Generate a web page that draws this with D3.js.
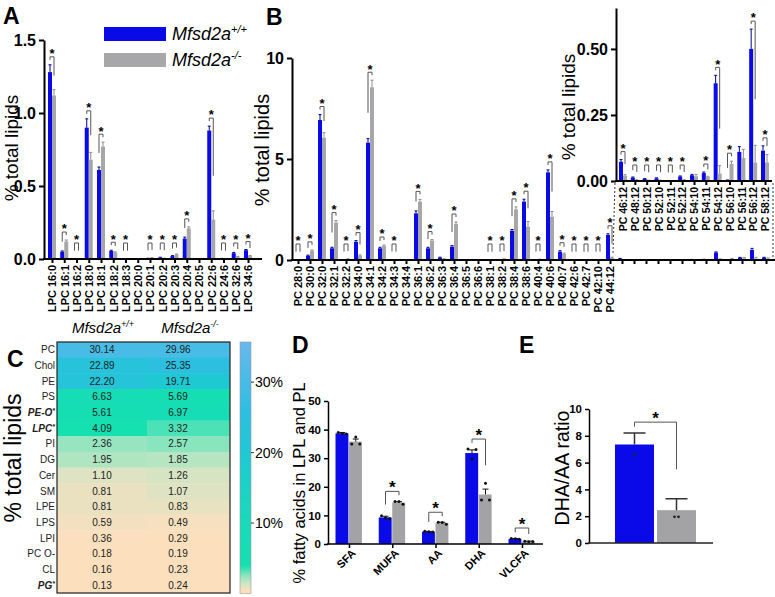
<!DOCTYPE html>
<html>
<head>
<meta charset="utf-8">
<script src="https://cdn.jsdelivr.net/npm/d3@7"></script>
<style>
  body { margin: 0; background: #fff; }
  svg { font-family: "Liberation Sans", Arial, sans-serif; }
</style>
</head>
<body>
<svg id="fig" width="775" height="597"></svg>
<script>
// ---- A: LPC species (% total lipids)
const lpcCats = ["16:0","16:1","16:2","18:0","18:1","18:2","18:3","20:0","20:1","20:2","20:3","20:4","20:5","22:6","24:6","32:6","34:6"];
const lpcWT    = [1.28,0.05,0.003,0.90,0.61,0.055,0.002,0.001,0.004,0.01,0.02,0.14,0.001,0.88,0.003,0.04,0.06];
const lpcWTSem = [0.05,0.005,0,0.06,0.02,0.005,0,0,0.001,0.002,0.003,0.01,0,0.03,0.001,0.005,0.005];
const lpcKO    = [1.12,0.12,0.002,0.68,0.77,0.045,0.001,0.001,0.008,0.005,0.03,0.21,0.001,0.27,0.002,0.015,0.02];
const lpcKOSem = [0.04,0.01,0,0.05,0.03,0.004,0,0,0.001,0.001,0.004,0.01,0,0.06,0,0.003,0.004];
const lpcSig   = [1,1,1,1,1,1,1,0,1,1,1,1,0,1,1,1,1];

// ---- B: PC species (% total lipids), last 13 also shown in the inset
const pcCats = ["28:0","30:0","32:0","32:1","32:2","34:0","34:1","34:2","34:3","34:4","36:1","36:2","36:3","36:4","36:5","36:6","38:1","38:2","38:4","38:6","40:4","40:6","40:7","42:6","42:7","42:10","44:12",
                "46:12","48:12","50:12","52:10","52:11","52:12","54:10","54:11","54:12","56:10","56:11","56:12","58:12"];
const pcWT    = [0.01,0.21,6.93,0.58,0.02,0.90,5.81,0.58,0.03,0.005,2.31,0.58,0.12,0.66,0.005,0.005,0.005,0.01,1.45,2.89,0.01,4.34,0.41,0.005,0.005,0.005,1.24,
                 0.073,0.013,0.008,0.01,0.002,0.017,0.022,0.03,0.37,0.003,0.11,0.50,0.115];
const pcWTSem = [0,0.03,0.27,0.05,0,0.06,0.2,0.05,0,0,0.12,0.05,0.02,0.05,0,0,0,0,0.06,0.12,0,0.12,0.05,0,0,0,0.06,
                 0.008,0.002,0.001,0.002,0,0.002,0.003,0.004,0.03,0.001,0.02,0.075,0.018];
const pcKO    = [0.005,0.46,6.05,1.85,0.05,0.22,8.55,0.69,0.01,0.005,2.89,0.96,0.05,1.78,0.005,0.005,0.01,0.05,2.51,1.65,0.03,2.14,0.30,0.01,0.01,0.01,0.12,
                 0.02,0.004,0.002,0.002,0.001,0.004,0.018,0.015,0.028,0.065,0.087,0.07,0.07];
const pcKOSem = [0,0.04,0.25,0.1,0.01,0.03,0.35,0.05,0,0,0.11,0.05,0.01,0.1,0,0,0,0.01,0.12,0.25,0.01,0.26,0.04,0,0,0,0.02,
                 0.004,0.001,0.001,0.001,0,0.001,0.007,0.003,0.03,0.01,0.033,0.065,0.03];
const pcSig   = [1,1,1,1,1,1,1,1,1,0,1,1,0,1,0,0,1,1,1,1,1,1,1,1,1,1,1,
                 1,1,1,1,1,1,0,1,1,1,0,1,1];
const insetFrom = 27;

// ---- C: lipid classes heatmap
const hmRows = ["PC","Chol","PE","PS","PE-O*","LPC*","PI","DG","Cer","SM","LPE","LPS","LPI","PC O-","CL","PG*"];
const hmWT   = [30.14,22.89,22.20,6.63,5.61,4.09,2.36,1.95,1.10,0.81,0.81,0.59,0.36,0.18,0.16,0.13];
const hmKO   = [29.96,25.35,19.71,5.69,6.97,3.32,2.57,1.85,1.26,1.07,0.83,0.49,0.29,0.19,0.23,0.24];
const hmTicks = [10, 20, 30];
const colDom   = [0, 0.4, 0.9, 1.5, 2.5, 4, 12, 20, 26, 36];
const colRange = ["#fde0bc","#fbdfbe","#e6e2c2","#cbe5c4","#8ee5bf","#14e0b0","#1ad8be","#1fc8d4","#2ebee0","#6cb8ee"];

// ---- D: fatty acid classes
const faCats  = ["SFA","MUFA","AA","DHA","VLCFA"];
const faWT    = [38.7, 9.3, 4.3, 31.8, 1.8];
const faWTSem = [0.3, 0.4, 0.1, 1.1, 0.1];
const faKO    = [35.8, 14.5, 7.3, 17.3, 0.9];
const faKOSem = [0.9, 0.3, 0.3, 1.9, 0.1];
const faWTPts = [[39.0,38.6,38.5],[9.9,9.2,8.8],[4.5,4.3,4.2],[33.2,29.6,33.0],[1.9,1.8,1.7]];
const faKOPts = [[35.0,37.4,35.0],[14.9,14.9,13.9],[7.6,7.5,6.9],[15.4,21.2,15.4],[1.0,0.8,0.9]];
const faSig   = [0,1,1,1,1];

// ---- E: DHA/AA ratio
const ratioGroups = ["WT","KO"];
const ratioMean = [7.35, 2.45];
const ratioSem  = [0.85, 0.85];
const ratioPts  = [[6.6], [1.95, 1.95]];

const BLUE = "#0a0ae8", GRAY = "#a7a7aa";
const svg = d3.select("#fig");

/*
 * Helpers
 */
function letter(t, x, y) {
  svg.append("text").attr("x", x).attr("y", y).attr("font-size", 23).attr("font-weight", "bold").text(t);
}

function yLabel(t, x, y, size) {
  svg.append("text").attr("transform", `translate(${x},${y}) rotate(-90)`)
    .attr("text-anchor", "middle").attr("font-size", size).text(t);
}

function styleAxis(sel, fs, bold, w) {
  sel.attr("font-family", null);
  sel.select(".domain").attr("stroke-width", w || 2);
  sel.selectAll(".tick line").attr("stroke-width", w || 2);
  sel.selectAll(".tick text").attr("font-size", fs).attr("font-weight", bold ? "bold" : "normal").attr("fill", "#000");
}

function bracket(g, x1, x2, yTop1, yTop2, yZero, size, gap) {
  const by = Math.min(Math.min(yTop1, yTop2) - gap, yZero - 16);
  const l1 = by + Math.max(3, (yTop1 - by - 4) * 0.65);
  const l2 = by + Math.max(3, (yTop2 - by - 4) * 0.65);
  g.append("path").attr("d", `M${x1},${l1}V${by}H${x2}V${l2}`)
    .attr("fill", "none").attr("stroke", "#555").attr("stroke-width", 1);
  g.append("text").attr("x", (x1 + x2) / 2).attr("y", by + size * 0.1)
    .attr("text-anchor", "middle").attr("font-size", size).attr("font-weight", "bold").text("*");
}

// grouped bars with one-sided error bars (panels A and B)
function pairBars(g, idx, cats, wt, wtSem, ko, koSem, x, y, bw) {
  idx.forEach(i => {
    const c = x(cats[i]);
    [[wt[i], wtSem[i], BLUE, c - bw, "#00008a"], [ko[i], koSem[i], GRAY, c, "#8c8c8c"]].forEach(([v, s, col, x0, ec]) => {
      g.append("rect").attr("x", x0).attr("y", y(v)).attr("width", bw).attr("height", y(0) - y(v)).attr("fill", col);
      if (s > 0) {
        const xc = x0 + bw / 2;
        g.append("path").attr("d", `M${xc},${y(v)}V${y(v + s)}M${xc - 1.5},${y(v + s)}H${xc + 1.5}`)
          .attr("stroke", ec).attr("stroke-width", 1);
      }
    });
  });
}

function rotatedTicks(s) {
  s.selectAll(".tick text").attr("transform", "rotate(-90)").attr("text-anchor", "end")
    .attr("x", -6).attr("y", 0).attr("dy", "0.35em");
}

/*
 * Panel A
 */
letter("A", 3, 24);
const xA = d3.scalePoint().domain(lpcCats).range([52, 248]);
const yA = d3.scaleLinear().domain([0, 1.5]).range([259, 40]);
const gA = svg.append("g");
pairBars(gA, d3.range(lpcCats.length), lpcCats, lpcWT, lpcWTSem, lpcKO, lpcKOSem, xA, yA, 4);
lpcCats.forEach((c, i) => {
  if (!lpcSig[i]) return;
  bracket(gA, xA(c) - 2, xA(c) + 2, yA(lpcWT[i] + lpcWTSem[i]), yA(lpcKO[i] + lpcKOSem[i]), yA(0), 13, 8);
});
gA.append("g").attr("transform", "translate(44,0)")
  .call(d3.axisLeft(yA).tickValues([0, 0.5, 1, 1.5]).tickFormat(d3.format(".1f")).tickSize(5).tickSizeOuter(0))
  .call(s => styleAxis(s, 16, true));
gA.append("g").attr("transform", "translate(0,259)")
  .call(d3.axisBottom(xA).tickSize(4).tickSizeOuter(0).tickFormat(d => "LPC " + d))
  .call(s => styleAxis(s, 11, true))
  .call(s => s.select(".domain").remove())
  .call(rotatedTicks);
gA.append("line").attr("x1", 43).attr("x2", 262).attr("y1", 259).attr("y2", 259).attr("stroke", "#000").attr("stroke-width", 2);
yLabel("% total lipids", 18, 148, 19);

// legend
[["+/+", BLUE, 27], ["-/-", GRAY, 53]].forEach(([sup, col, y0]) => {
  svg.append("rect").attr("x", 104).attr("y", y0).attr("width", 62).attr("height", 14).attr("fill", col);
  const t = svg.append("text").attr("x", 172).attr("y", y0 + 13).attr("font-size", 18).attr("font-style", "italic").text("Mfsd2a");
  t.append("tspan").attr("font-size", 11).attr("dy", -7).text(sup);
});

/*
 * Panel B
 */
letter("B", 266, 25);
const xB = d3.scalePoint().domain(pcCats).range([298, 298 + 39 * 12.0]);
const yB = d3.scaleLinear().domain([0, 10]).range([260, 58]);
const gB = svg.append("g");
pairBars(gB, d3.range(pcCats.length), pcCats, pcWT, pcWTSem, pcKO, pcKOSem, xB, yB, 4);
pcCats.forEach((c, i) => {
  if (!pcSig[i] || i >= insetFrom) return;
  bracket(gB, xB(c) - 2, xB(c) + 2, yB(pcWT[i] + pcWTSem[i]), yB(pcKO[i] + pcKOSem[i]), yB(0), 13, 8);
});
gB.append("g").attr("transform", "translate(292,0)")
  .call(d3.axisLeft(yB).tickValues([0, 5, 10]).tickSize(5).tickSizeOuter(0))
  .call(s => styleAxis(s, 16, true));
gB.append("g").attr("transform", "translate(0,260)")
  .call(d3.axisBottom(xB).tickSize(4).tickSizeOuter(0).tickFormat((d, i) => i < insetFrom ? "PC " + d : ""))
  .call(s => styleAxis(s, 11, true))
  .call(s => s.select(".domain").remove())
  .call(rotatedTicks);
gB.append("line").attr("x1", 291).attr("x2", 775).attr("y1", 260).attr("y2", 260).attr("stroke", "#000").attr("stroke-width", 2);
yLabel("% total lipids", 269, 150, 20);

// inset
const insetCats = pcCats.slice(insetFrom);
const xI = d3.scalePoint().domain(insetCats).range([623, 765]);
const yI = d3.scaleLinear().domain([0, 0.655]).range([181, 8]);
const gI = svg.append("g");
pairBars(gI, d3.range(insetFrom, pcCats.length), pcCats, pcWT, pcWTSem, pcKO, pcKOSem, xI, yI, 4);
insetCats.forEach((c, j) => {
  const i = j + insetFrom;
  if (!pcSig[i]) return;
  bracket(gI, xI(c) - 2, xI(c) + 2, yI(pcWT[i] + pcWTSem[i]), yI(pcKO[i] + pcKOSem[i]), yI(0), 13, 8);
});
gI.append("g").attr("transform", "translate(616,0)")
  .call(d3.axisLeft(yI).tickValues([0, 0.25, 0.5]).tickFormat(d3.format(".2f")).tickSize(5).tickSizeOuter(0))
  .call(s => styleAxis(s, 16, true));
gI.append("g").attr("transform", "translate(0,181)")
  .call(d3.axisBottom(xI).tickSize(4).tickSizeOuter(0).tickFormat(d => "PC " + d))
  .call(s => styleAxis(s, 10.5, true))
  .call(s => s.select(".domain").remove())
  .call(rotatedTicks);
gI.append("line").attr("x1", 615).attr("x2", 772).attr("y1", 181).attr("y2", 181).attr("stroke", "#000").attr("stroke-width", 2);
yLabel("% total lipids", 575, 107, 19);
gI.append("path").attr("d", "M615,183L613,253M773,183L773,258")
  .attr("fill", "none").attr("stroke", "#333").attr("stroke-width", 1).attr("stroke-dasharray", "2,2");

/*
 * Panel C
 */
letter("C", 7, 367);
const color = d3.scaleLinear().domain(colDom).range(colRange).clamp(true);
const rowY = d3.scaleBand().domain(hmRows).range([342, 593]);
const gC = svg.append("g");
hmRows.forEach((r, i) => {
  gC.append("rect").attr("x", 57).attr("y", rowY(r)).attr("width", 90).attr("height", rowY.bandwidth() + 0.5).attr("fill", color(hmWT[i]));
  gC.append("rect").attr("x", 147).attr("y", rowY(r)).attr("width", 83).attr("height", rowY.bandwidth() + 0.5).attr("fill", color(hmKO[i]));
  const ty = rowY(r) + rowY.bandwidth() / 2 + 3.5;
  gC.append("text").attr("x", 102).attr("y", ty).attr("text-anchor", "middle").attr("font-size", 10).attr("fill", "#222").text(hmWT[i].toFixed(2));
  gC.append("text").attr("x", 178).attr("y", ty).attr("text-anchor", "middle").attr("font-size", 10).attr("fill", "#222").text(hmKO[i].toFixed(2));
  const star = r.endsWith("*");
  const lab = gC.append("text").attr("x", 55).attr("y", ty).attr("text-anchor", "end").attr("font-size", 10).attr("fill", "#222");
  if (star) {
    lab.attr("font-weight", "bold").attr("font-style", "italic").text(r.slice(0, -1));
    lab.append("tspan").attr("font-size", 7).attr("dy", -3).text("*");
  } else {
    lab.text(r);
  }
});
gC.append("rect").attr("x", 57).attr("y", 342).attr("width", 173).attr("height", 251)
  .attr("fill", "none").attr("stroke", "#222").attr("stroke-width", 1.2);
[["+/+", 103], ["-/-", 190]].forEach(([sup, cx]) => {
  const t = gC.append("text").attr("x", cx).attr("y", 333).attr("text-anchor", "middle").attr("font-size", 15).attr("font-style", "italic").text("Mfsd2a");
  t.append("tspan").attr("font-size", 9).attr("dy", -6).text(sup);
});
yLabel("% total lipids", 21, 458, 23);

// colour bar
const cbY = d3.scaleLinear().domain([0, 35.7]).range([593.5, 342]);
const grad = svg.append("defs").append("linearGradient").attr("id", "cb")
  .attr("x1", 0).attr("y1", 1).attr("x2", 0).attr("y2", 0);
d3.range(0, 35.71, 0.25).forEach(v => {
  grad.append("stop").attr("offset", v / 35.7).attr("stop-color", color(v));
});
gC.append("rect").attr("x", 240).attr("y", 342).attr("width", 11).attr("height", 251.5)
  .attr("fill", "url(#cb)").attr("stroke", "#999").attr("stroke-width", 0.6);
hmTicks.forEach(t => {
  gC.append("line").attr("x1", 251).attr("x2", 254).attr("y1", cbY(t)).attr("y2", cbY(t)).attr("stroke", "#333");
  gC.append("text").attr("x", 255).attr("y", cbY(t) + 5).attr("font-size", 14).text(t + "%");
});

/*
 * Panel D
 */
letter("D", 292, 353);
const xD = d3.scalePoint().domain(faCats).range([349, 522]);
const yD = d3.scaleLinear().domain([0, 50]).range([544, 401]);
const gD = svg.append("g");
const bwD = 13.5;
faCats.forEach((c, i) => {
  const cx = xD(c);
  [[faWT[i], faWTSem[i], faWTPts[i], BLUE, cx - bwD], [faKO[i], faKOSem[i], faKOPts[i], "#a3a3a5", cx]].forEach(([v, s, pts, col, x0]) => {
    gD.append("rect").attr("x", x0).attr("y", yD(v)).attr("width", bwD - 0.6).attr("height", yD(0) - yD(v)).attr("fill", col);
    const xc = x0 + bwD / 2;
    gD.append("path").attr("d", `M${xc},${yD(v)}V${yD(v + s)}M${xc - 3},${yD(v + s)}H${xc + 3}`)
      .attr("stroke", "#111").attr("stroke-width", 1);
    pts.forEach((p, k) => {
      gD.append("circle").attr("cx", xc + (k - 1) * 4).attr("cy", yD(p)).attr("r", 1.5).attr("fill", "#111");
    });
  });
  if (faSig[i]) {
    const t1 = yD(Math.max(faWT[i] + faWTSem[i], d3.max(faWTPts[i])));
    const t2 = yD(Math.max(faKO[i] + faKOSem[i], d3.max(faKOPts[i])));
    bracket(gD, cx - bwD / 2, cx + bwD / 2, t1, t2, yD(0), 17, 10);
  }
});
gD.append("g").attr("transform", "translate(328,0)")
  .call(d3.axisLeft(yD).tickValues([0, 10, 20, 30, 40, 50]).tickSize(4).tickSizeOuter(0))
  .call(s => styleAxis(s, 11.5, true, 1.5));
gD.append("g").attr("transform", "translate(0,544)")
  .call(d3.axisBottom(xD).tickSize(4).tickSizeOuter(0))
  .call(s => styleAxis(s, 11, true, 1.5))
  .call(s => s.select(".domain").remove())
  .call(s => s.selectAll(".tick text").attr("transform", "rotate(-45)").attr("text-anchor", "end")
    .attr("x", -2).attr("y", 8).attr("dy", "0.35em"));
gD.append("line").attr("x1", 327).attr("x2", 543).attr("y1", 544).attr("y2", 544).attr("stroke", "#000").attr("stroke-width", 1.5);
yLabel("%  fatty acids in LPL and PL", 305, 483, 16.5);

/*
 * Panel E
 */
letter("E", 519, 353);
const xE = d3.scalePoint().domain(ratioGroups).range([634.5, 676.5]);
const yE = d3.scaleLinear().domain([0, 10]).range([543, 409]);
const gE = svg.append("g");
ratioGroups.forEach((grp, i) => {
  const cx = xE(grp), v = ratioMean[i], s = ratioSem[i];
  gE.append("rect").attr("x", cx - 19.5).attr("y", yE(v)).attr("width", 39).attr("height", yE(0) - yE(v))
    .attr("fill", i === 0 ? BLUE : "#a3a3a5");
  gE.append("path").attr("d", `M${cx},${yE(v)}V${yE(v + s)}M${cx - 11},${yE(v + s)}H${cx + 11}`)
    .attr("stroke", "#333").attr("stroke-width", 1.5);
  ratioPts[i].forEach((p, k, arr) => {
    gE.append("circle").attr("cx", cx + (k - (arr.length - 1) / 2) * 4).attr("cy", yE(p)).attr("r", 1.4).attr("fill", "#222");
  });
});
bracket(gE, xE("WT"), xE("KO"), yE(ratioMean[0] + ratioSem[0]), yE(ratioMean[1] + ratioSem[1]), yE(0), 17, 11);
gE.append("g").attr("transform", "translate(589,0)")
  .call(d3.axisLeft(yE).tickValues([0, 2, 4, 6, 8, 10]).tickSize(4).tickSizeOuter(0))
  .call(s => styleAxis(s, 11.5, true, 1.5));
gE.append("line").attr("x1", 588).attr("x2", 713).attr("y1", 543).attr("y2", 543).attr("stroke", "#222").attr("stroke-width", 1.5);
yLabel("DHA/AA ratio", 569, 468, 19.5);
</script>
</body>
</html>
